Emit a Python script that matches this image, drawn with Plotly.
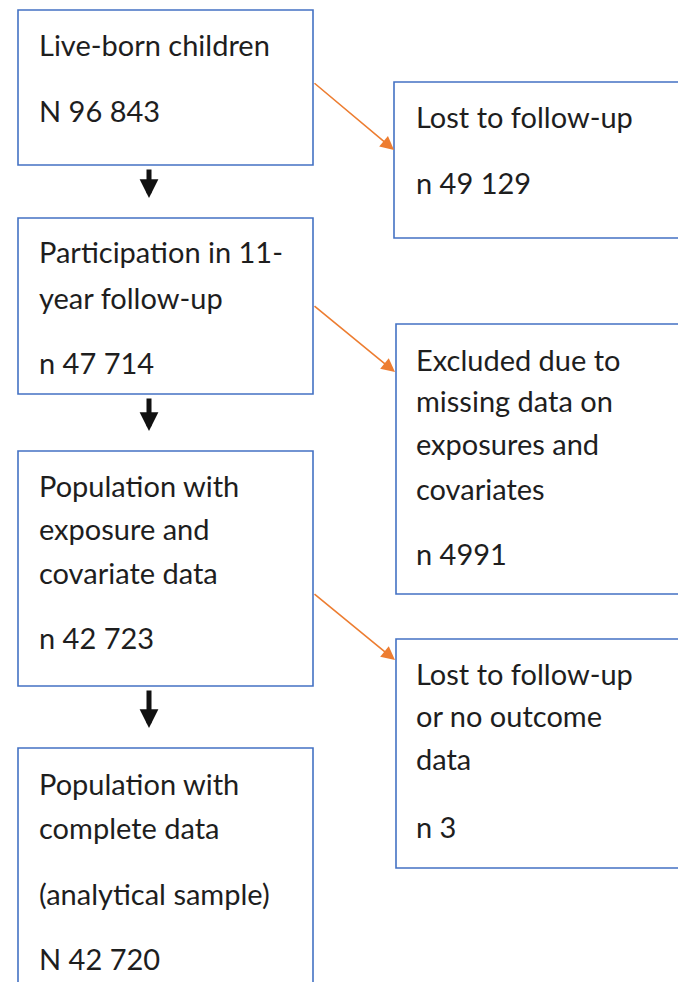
import plotly.graph_objects as go

# ---- data (text content of the flowchart) ----
main_lines = [
    ["Live-born children", "N 96 843"],
    ["Participation in 11-", "year follow-up", "n 47 714"],
    ["Population with", "exposure and", "covariate data", "n 42 723"],
    ["Population with", "complete data", "(analytical sample)", "N 42 720"],
]
side_lines = [
    ["Lost to follow-up", "n 49 129"],
    ["Excluded due to", "missing data on", "exposures and", "covariates", "n 4991"],
    ["Lost to follow-up", "or no outcome", "data", "n 3"],
]

# ---- layout geometry (pixels) ----
W, H = 678, 982
main_boxes = [(18, 10, 313, 165), (18, 218, 313, 394), (18, 451, 313, 686), (18, 748, 313, None)]
side_boxes = [(394, 82, None, 238), (396, 324, None, 594), (396, 639, None, 868)]
main_line_y = [[44, 110], [251, 297, 362], [485, 528, 572, 637], [783, 827, 893, 958]]
side_line_y = [[116, 182], [359, 400, 443, 488, 553], [673, 715, 758, 826]]
main_text_x = 37
side_text_x = 414

BLUE = "#4472C4"
ORANGE = "#ED7D31"
TEXT = "#1e1e1e"
FONT = dict(family="Lato, Carlito, sans-serif", size=29, color=TEXT)

fig = go.Figure()
shapes = []
annotations = []

LINE = dict(color=BLUE, width=1.6)
for (x0, y0, x1, y1) in main_boxes + side_boxes:
    if x1 is None:      # box runs off the right edge: no right side
        path = f"M {W + 20} {y0} L {x0} {y0} L {x0} {y1} L {W + 20} {y1}"
    elif y1 is None:    # box runs off the bottom edge: no bottom side
        path = f"M {x0} {H + 20} L {x0} {y0} L {x1} {y0} L {x1} {H + 20}"
    else:
        path = f"M {x0} {y0} L {x1} {y0} L {x1} {y1} L {x0} {y1} Z"
    shapes.append(dict(type="path", xref="x", yref="y", path=path, line=LINE))

for lines, ys in zip(main_lines, main_line_y):
    for t, y in zip(lines, ys):
        annotations.append(dict(x=main_text_x, y=y, xref="x", yref="y", text=t, showarrow=False,
                                xanchor="left", yanchor="middle", font=FONT))
for lines, ys in zip(side_lines, side_line_y):
    for t, y in zip(lines, ys):
        annotations.append(dict(x=side_text_x, y=y, xref="x", yref="y", text=t, showarrow=False,
                                xanchor="left", yanchor="middle", font=FONT))

# black down arrows between main boxes
for i in range(len(main_boxes) - 1):
    ytop = main_boxes[i][3] + 3
    ybot = main_boxes[i + 1][1] - 20
    annotations.append(dict(x=149, y=ybot, ax=149, ay=ytop, xref="x", yref="y", axref="x", ayref="y",
                            text="", showarrow=True, arrowhead=2, arrowsize=0.75, arrowwidth=5,
                            arrowcolor="#111111"))

# orange diagonal arrows to side boxes
orange = [((313, 82), (394, 150)), ((313, 305), (395, 372)), ((313, 593), (395, 660))]
for (sx, sy), (ex, ey) in orange:
    annotations.append(dict(x=ex, y=ey, ax=sx, ay=sy, xref="x", yref="y", axref="x", ayref="y",
                            text="", showarrow=True, arrowhead=2, arrowsize=1.7, arrowwidth=1.6,
                            arrowcolor=ORANGE))

fig.update_layout(
    width=W, height=H, margin=dict(l=0, r=0, t=0, b=0),
    paper_bgcolor="white", plot_bgcolor="white", showlegend=False,
    xaxis=dict(range=[0, W], visible=False, fixedrange=True),
    yaxis=dict(range=[H, 0], visible=False, fixedrange=True),
    shapes=shapes, annotations=annotations,
)
fig.write_html(
    "out.html",
    config={"displayModeBar": False},
    post_script="document.body.style.margin='0';document.documentElement.style.overflow='hidden';",
)
